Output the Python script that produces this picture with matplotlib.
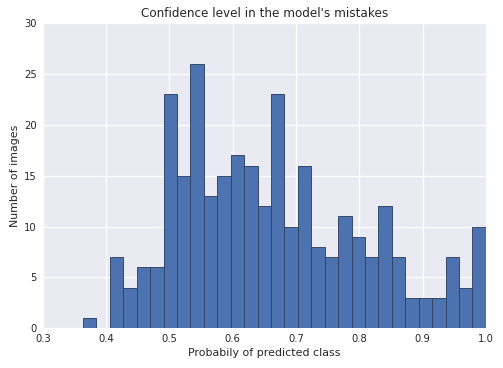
import numpy as np
import matplotlib
matplotlib.use('Agg')
import matplotlib.pyplot as plt

# bin edges and counts
bin_start = 0.3636
bin_end = 1.0
counts = [1, 0, 7, 4, 6, 6, 23, 15, 26, 13, 15, 17, 16, 12, 23,
          10, 16, 8, 7, 11, 9, 7, 12, 7, 3, 3, 3, 7, 4, 10]
xticks = [0.3, 0.4, 0.5, 0.6, 0.7, 0.8, 0.9, 1.0]
yticks = [0, 5, 10, 15, 20, 25, 30]

edges = np.linspace(bin_start, bin_end, len(counts) + 1)

plt.rcParams['font.family'] = 'DejaVu Sans'
fig = plt.figure(figsize=(503 / 72, 368 / 72), dpi=72)
ax = fig.add_axes([0.085, 0.108, 0.881, 0.829])
ax.set_facecolor('#EAEAF2')
ax.set_axisbelow(True)
ax.grid(True, color='white', linewidth=1.2)
for s in ax.spines.values():
    s.set_visible(False)

ax.hist(edges[:-1], bins=edges, weights=counts, color='#4C72B0',
        edgecolor='#2f4263', linewidth=0.9)

ax.set_xlim(0.3, 1.0)
ax.set_ylim(0, 30)
ax.set_xticks(xticks)
ax.set_yticks(yticks)
ax.set_xticklabels(['%.1f' % t for t in xticks])
ax.tick_params(length=0, labelsize=10, colors='#262626', pad=6)
ax.set_xlabel('Probabily of predicted class', fontsize=11, color='#262626')
ax.set_ylabel('Number of images', fontsize=11, color='#262626')
ax.set_title("Confidence level in the model's mistakes", fontsize=12, color='#262626')

fig.savefig('out.png', dpi=72)
